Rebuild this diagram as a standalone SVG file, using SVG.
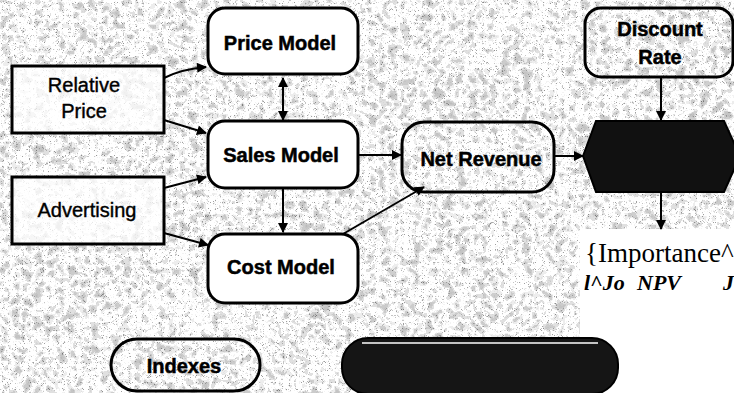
<svg xmlns="http://www.w3.org/2000/svg" width="734" height="393" viewBox="0 0 734 393">
  <defs>
    <style>
      .lbl { font-family: "Liberation Sans", Arial, sans-serif; font-size: 20px; font-weight: bold; fill: #000; stroke: #000; stroke-width: 0.5; text-anchor: middle; }
      .plain { font-family: "Liberation Sans", Arial, sans-serif; font-size: 20px; fill: #000; stroke: #000; stroke-width: 0.4; text-anchor: middle; }
      .box { stroke: #000; stroke-width: 3; }
      .white { fill: #fff; }
      .soft { fill: #fff; fill-opacity: 0.75; }
      .clear { fill: none; }
      .edge { fill: none; stroke: #000; stroke-width: 2; }
      .serif { font-family: "Liberation Serif", "Times New Roman", serif; fill: #000; }
    </style>
    <marker id="arrow" viewBox="0 0 10 10" refX="9" refY="5" markerWidth="11" markerHeight="10" markerUnits="userSpaceOnUse" orient="auto-start-reverse">
      <path d="M0,0 L10,5 L0,10 Z" fill="#000"/>
    </marker>
    <!-- speckled halftone backdrop -->
    <filter id="grain" x="0" y="0" width="734" height="393" filterUnits="userSpaceOnUse">
      <feTurbulence type="fractalNoise" baseFrequency="0.09" numOctaves="3" seed="7" result="n"/>
      <feColorMatrix in="n" type="matrix" values="1 0 0 0 0  1 0 0 0 0  1 0 0 0 0  0 0 0 0 1" result="g"/>
      <feComponentTransfer in="g" result="blobs">
        <feFuncR type="discrete" tableValues="0.5 0.55 0.62 0.85 1 1 0.75 0.6 0.55 0.5"/>
        <feFuncG type="discrete" tableValues="0.5 0.55 0.62 0.85 1 1 0.75 0.6 0.55 0.5"/>
        <feFuncB type="discrete" tableValues="0.5 0.55 0.62 0.85 1 1 0.75 0.6 0.55 0.5"/>
      </feComponentTransfer>
      <feTurbulence type="turbulence" baseFrequency="0.85" numOctaves="1" seed="3" result="f"/>
      <feColorMatrix in="f" type="matrix" values="1 0 0 0 0  1 0 0 0 0  1 0 0 0 0  0 0 0 0 1" result="fg"/>
      <feComponentTransfer in="fg" result="dots">
        <feFuncR type="discrete" tableValues="1 1 1 0.9 0.55 0.35 0.3 0.3 0.3 0.3"/>
        <feFuncG type="discrete" tableValues="1 1 1 0.9 0.55 0.35 0.3 0.3 0.3 0.3"/>
        <feFuncB type="discrete" tableValues="1 1 1 0.9 0.55 0.35 0.3 0.3 0.3 0.3"/>
      </feComponentTransfer>
      <feBlend in="blobs" in2="dots" mode="multiply"/>
    </filter>
    <clipPath id="backdropClip">
      <path d="M0,0 H734 V229 H580 V393 H0 Z"/>
    </clipPath>
  </defs>

  <rect width="734" height="393" fill="#fff"/>
  <g clip-path="url(#backdropClip)">
    <rect width="734" height="393" fill="#fff" filter="url(#grain)"/>
  </g>

  <!-- connectors -->
  <g id="connectors">
    <path class="edge" d="M164,78 Q182,69 206,67" marker-end="url(#arrow)"/>
    <path class="edge" d="M164,120 L206,133" marker-end="url(#arrow)"/>
    <path class="edge" d="M164,188 L206,177" marker-end="url(#arrow)"/>
    <path class="edge" d="M164,233 L208,245" marker-end="url(#arrow)"/>
    <path class="edge" d="M283,78 L283,120" marker-start="url(#arrow)" marker-end="url(#arrow)"/>
    <path class="edge" d="M283,188 L283,232" marker-end="url(#arrow)"/>
    <path class="edge" d="M358,155 L401,155" marker-end="url(#arrow)"/>
    <path class="edge" d="M343,234 L424,187" marker-end="url(#arrow)"/>
    <path class="edge" d="M554,156 L583,156" marker-end="url(#arrow)"/>
    <path class="edge" d="M661,77 L661,120" marker-end="url(#arrow)"/>
    <path class="edge" d="M661,192 L661,229" marker-end="url(#arrow)"/>
  </g>

  <g id="relative-price">
    <rect class="box soft" x="12" y="66" width="152" height="67"/>
    <text class="plain" x="84" y="92">Relative</text>
    <text class="plain" x="84" y="118">Price</text>
  </g>

  <g id="advertising">
    <rect class="box soft" x="12" y="177" width="152" height="67"/>
    <text class="plain" x="87" y="217">Advertising</text>
  </g>

  <g id="price-model">
    <rect class="box white" x="208" y="8" width="150" height="66" rx="17"/>
    <text class="lbl" x="280" y="50">Price Model</text>
  </g>

  <g id="sales-model">
    <rect class="box white" x="208" y="121" width="150" height="67" rx="17"/>
    <text class="lbl" x="281" y="162">Sales Model</text>
  </g>

  <g id="cost-model">
    <rect class="box white" x="208" y="234" width="150" height="69" rx="17"/>
    <text class="lbl" x="281" y="274">Cost Model</text>
  </g>

  <g id="net-revenue">
    <rect class="box clear" x="402" y="122" width="152" height="70" rx="22"/>
    <text class="lbl" x="481" y="166">Net Revenue</text>
  </g>

  <g id="discount-rate">
    <rect class="box clear" x="585" y="8" width="148" height="69" rx="16"/>
    <text class="lbl" x="660" y="36">Discount</text>
    <text class="lbl" x="660" y="64">Rate</text>
  </g>

  <g id="npv">
    <path d="M583,156 L596,121 L724,121 L740,156 L724,192 L596,192 Z" fill="#111" stroke="#000" stroke-width="2"/>
  </g>

  <g id="indexes">
    <rect class="box clear" x="111" y="339" width="149" height="52" rx="26"/>
    <text class="lbl" x="184" y="373">Indexes</text>
  </g>

  <g id="dark-pill">
    <rect x="342" y="338" width="276" height="56" rx="26" fill="#151515" stroke="#000" stroke-width="2"/>
    <line x1="362" y1="343" x2="598" y2="343" stroke="#fff" stroke-width="1.5"/>
  </g>

  <text class="serif" font-size="27" x="585" y="262">{Importance^</text>
  <text class="serif" font-size="22" font-weight="bold" font-style="italic" y="290"><tspan x="584">l^Jo</tspan><tspan x="637">NPV</tspan><tspan x="723">J</tspan></text>
</svg>
